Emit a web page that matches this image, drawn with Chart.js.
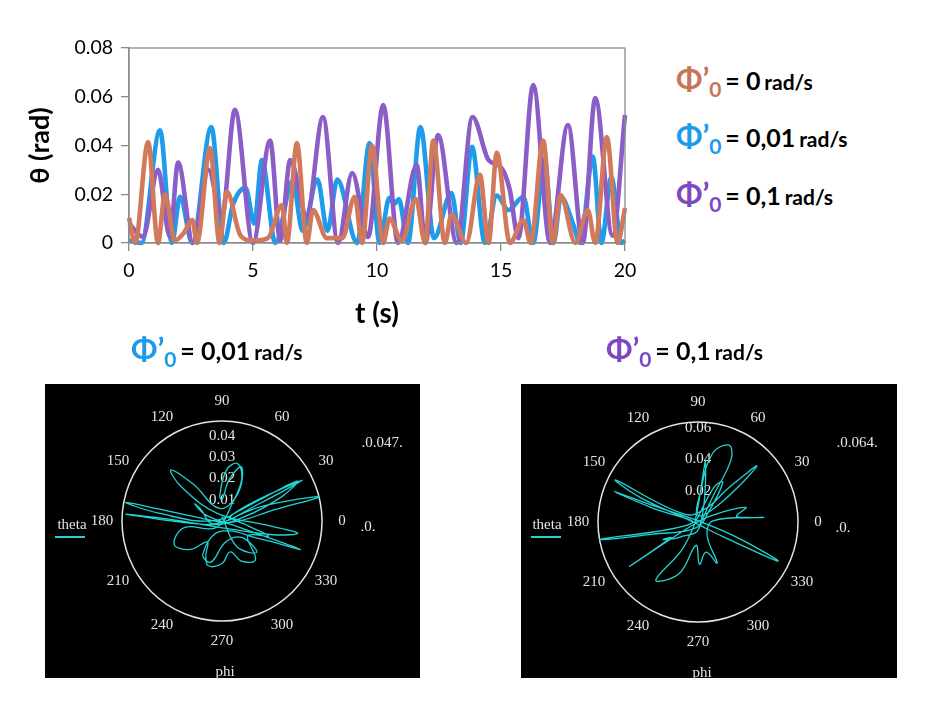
<!DOCTYPE html>
<html>
<head>
<meta charset="utf-8">
<script src="https://cdn.jsdelivr.net/npm/chart.js@4.4.0/dist/chart.umd.min.js"></script>
<style>
  body { margin: 0; background: #fff; width: 947px; height: 713px; position: relative; overflow: hidden; font-family: Lato, "Open Sans", sans-serif; }
  #topWrap { position: absolute; left: 0; top: 0; width: 650px; height: 340px; }
  .leg { position: absolute; font-weight: bold; white-space: nowrap; color: #000; line-height: 1; }
  .leg .phi { font-size: 31px; }
  .leg .sub { font-size: 21px; position: relative; top: 7px; }
  .leg .eq { font-size: 25px; }
  .leg .unit { font-size: 21px; }
  .box { position: absolute; background: #000; }
  .box .wrap { position: absolute; left: 0; top: 0; width: 100%; height: 100%; }
  .ptxt { position: absolute; color: #e4e4e4; font-family: "Liberation Serif", serif; font-size: 15px; transform: translate(-50%, -50%); white-space: nowrap; }
  .tline { position: absolute; height: 1.5px; background: #22d3d3; }
</style>
</head>
<body>

<div id="topWrap"><canvas id="thetaChart"></canvas></div>

<div class="leg" style="left:676px; top:63px;"><span class="phi" style="color:#C8755A">Φ’<span class="sub">0</span></span> <span class="eq">= 0</span> <span class="unit">rad/s</span></div>
<div class="leg" style="left:676px; top:120px;"><span class="phi" style="color:#1C9BE6">Φ’<span class="sub">0</span></span> <span class="eq">= 0,01</span> <span class="unit">rad/s</span></div>
<div class="leg" style="left:676px; top:178px;"><span class="phi" style="color:#7E48C0">Φ’<span class="sub">0</span></span> <span class="eq">= 0,1</span> <span class="unit">rad/s</span></div>

<div class="leg" style="left:131px; top:333px;"><span class="phi" style="color:#1C9BE6">Φ’<span class="sub">0</span></span> <span class="eq">= 0,01</span> <span class="unit">rad/s</span></div>
<div class="leg" style="left:606px; top:333px;"><span class="phi" style="color:#7E48C0">Φ’<span class="sub">0</span></span> <span class="eq">= 0,1</span> <span class="unit">rad/s</span></div>

<div class="box" style="left:45px; top:384px; width:375px; height:294px;">
  <div class="wrap"><canvas id="polarA"></canvas></div>
  <div class="ptxt" style="left:27px; top:140px;">theta</div>
  <div class="tline" style="left:10px; top:152px; width:30px;"></div>
  <div class="ptxt" style="left:180px; top:287px;">phi</div>
  <div class="ptxt" style="left:337px; top:58px;">.0.047.</div>
  <div class="ptxt" style="left:323px; top:142px;">.0.</div>
</div>

<div class="box" style="left:521px; top:384px; width:376px; height:294px;">
  <div class="wrap"><canvas id="polarB"></canvas></div>
  <div class="ptxt" style="left:26px; top:140px;">theta</div>
  <div class="tline" style="left:10px; top:152px; width:30px;"></div>
  <div class="ptxt" style="left:181px; top:288px;">phi</div>
  <div class="ptxt" style="left:336px; top:58px;">.0.064.</div>
  <div class="ptxt" style="left:322px; top:143px;">.0.</div>
</div>

<script>
// theta(t) for the three initial phi rates
const tOrange = [0, 0.25, 0.77, 1.17, 1.45, 1.85, 2.2, 2.55, 2.74, 3.27, 3.65, 3.95, 4.5, 5.0, 5.6, 6.17, 6.37, 6.77, 7.17, 7.42, 7.98, 8.6, 9.1, 9.4, 9.8, 10.25, 10.5, 11.0, 11.57, 11.94, 12.27, 12.74, 13.0, 13.6, 14.15, 14.5, 14.83, 15.36, 15.9, 16.2, 16.7, 17.1, 17.4, 18.0, 18.5, 18.8, 19.27, 19.7, 20];
const thetaOrange = [0.0103, 0, 0.0414, 0, 0.020, 0.001, 0.004, 0.0094, 0, 0.039, 0, 0.021, 0.003, 0.001, 0.002, 0.0156, 0, 0.041, 0, 0.0135, 0.002, 0.002, 0.019, 0, 0.040, 0, 0.010, 0.001, 0.018, 0, 0.042, 0, 0.0115, 0, 0.028, 0, 0.037, 0, 0.0094, 0, 0.042, 0, 0.0197, 0, 0.0135, 0, 0.0435, 0, 0.0143];

const tBlue = [0, 0.5, 1.25, 1.73, 2.06, 2.55, 3.32, 3.82, 4.2, 4.7, 5.05, 5.36, 5.9, 6.6, 7.0, 7.6, 8.0, 8.4, 9.2, 9.7, 10.1, 10.5, 10.7, 10.88, 11.25, 11.75, 12.3, 13.0, 13.37, 13.83, 14.35, 14.83, 15.3, 15.9, 16.3, 16.75, 17.12, 17.42, 17.9, 18.2, 18.7, 19.05, 19.45, 19.85, 20];
const thetaBlue = [0.001, 0, 0.0462, 0, 0.019, 0, 0.0476, 0, 0.016, 0.0226, 0.008, 0.034, 0, 0.0255, 0.005, 0.026, 0.005, 0.026, 0, 0.041, 0, 0.0185, 0.016, 0.018, 0, 0.0476, 0.002, 0.0205, 0, 0.0395, 0, 0.0195, 0.0135, 0.019, 0, 0.034, 0, 0.019, 0.008, 0, 0.0355, 0, 0.027, 0, 0.001];

const tPurple = [0, 0.56, 1.17, 1.65, 1.98, 2.58, 3.2, 3.75, 4.27, 5.0, 5.69, 6.1, 6.5, 7.17, 7.82, 8.43, 9.0, 9.64, 10.25, 10.85, 11.6, 11.95, 12.46, 13.22, 13.85, 14.5, 15.0, 15.35, 15.7, 16.3, 16.98, 17.7, 18.3, 18.8, 19.5, 20];
const thetaPurple = [0.008, 0.0025, 0.030, 0.0025, 0.033, 0, 0.030, 0.011, 0.0546, 0, 0.042, 0.001, 0.034, 0.011, 0.0517, 0, 0.0287, 0.0025, 0.0566, 0, 0.032, 0, 0.0443, 0, 0.0517, 0.034, 0.031, 0.022, 0.002, 0.0648, 0, 0.0484, 0, 0.0595, 0.003, 0.0525];

const yTicks = [0, 0.02, 0.04, 0.06, 0.08];
const xTicks = [0, 5, 10, 15, 20];

// polar trajectories (phi in degrees, theta in rad)
const phiA = [10, 20, 14, 12, 350, 172, 169, 173, 178, 30, 28, 22, 10, 200, 176, 178, 300, 345, 351, 355, 120, 140, 135, 128, 100, 60, 70, 80, 90, 95, 85, 75, 65, 60, 230, 190, 206, 222, 235, 245, 253, 270, 285, 296, 311, 330, 342, 350, 30, 27, 25, 200, 150, 148, 160, 340, 340, 335, 260, 240, 255, 280, 320, 318, 300, 90];
const thetaA = [0.003, 0.020, 0.047, 0.025, 0.004, 0.010, 0.046, 0.030, 0.004, 0.015, 0.040, 0.030, 0.010, 0.005, 0.045, 0.025, 0.004, 0.025, 0.036, 0.020, 0.004, 0.025, 0.034, 0.022, 0.006, 0.015, 0.027, 0.020, 0.010, 0.012, 0.024, 0.028, 0.022, 0.010, 0.004, 0.018, 0.025, 0.020, 0.012, 0.018, 0.022, 0.020, 0.015, 0.021, 0.024, 0.014, 0.023, 0.012, 0.005, 0.042, 0.020, 0.004, 0.012, 0.015, 0.008, 0.008, 0.039, 0.020, 0.005, 0.018, 0.020, 0.010, 0.012, 0.022, 0.014, 0.002];

const phiB = [0, 60, 62, 68, 78, 85, 90, 40, 43.5, 48, 60, 150, 153, 157, 170, 330, 334, 338, 350, 160, 160, 163, 190, 190, 195, 250, 45, 58, 65, 80, 240, 234, 250, 265, 272, 285, 295, 305, 5, 4, 8, 17, 25, 210, 213, 210, 207, 220, 280, 83, 90, 180];
const thetaB = [0.002, 0.020, 0.045, 0.053, 0.045, 0.020, 0.004, 0.020, 0.052, 0.030, 0.010, 0.010, 0.059, 0.040, 0.005, 0.020, 0.057, 0.030, 0.004, 0.030, 0.057, 0.030, 0.004, 0.064, 0.030, 0.004, 0.010, 0.030, 0.025, 0.005, 0.020, 0.046, 0.035, 0.015, 0.027, 0.020, 0.029, 0.010, 0.010, 0.042, 0.025, 0.032, 0.010, 0.006, 0.052, 0.020, 0.025, 0.015, 0.004, 0.039, 0.010, 0.002];

const angleLabels = [0, 30, 60, 90, 120, 150, 180, 210, 240, 270, 300, 330];

function toPoints(xs, ys) {
    return xs.map((x, i) => ({ x: x, y: ys[i] }));
}

function toPolar(phis, thetas) {
    return phis.map((p, i) => {
        const a = p * Math.PI / 180;
        return { x: thetas[i] * Math.cos(a), y: thetas[i] * Math.sin(a) };
    });
}

// box round the plot area (top and right edges)
const frame = {
    id: 'frame',
    afterDraw(chart) {
        const { ctx, chartArea: a } = chart;
        ctx.save();
        ctx.strokeStyle = '#8a8a8a';
        ctx.lineWidth = 1.3;
        ctx.strokeRect(a.left, a.top, a.right - a.left, a.bottom - a.top);
        ctx.restore();
    }
};

const lineStyle = { pointRadius: 0, borderWidth: 4.6, cubicInterpolationMode: 'monotone', clip: false, fill: false };

new Chart(document.getElementById('thetaChart'), {
    type: 'line',
    data: {
        datasets: [
            { label: "φ'0 = 0 rad/s", data: toPoints(tOrange, thetaOrange), borderColor: '#D2795C', ...lineStyle },
            { label: "φ'0 = 0,1 rad/s", data: toPoints(tPurple, thetaPurple), borderColor: '#8A5EC6', ...lineStyle },
            { label: "φ'0 = 0,01 rad/s", data: toPoints(tBlue, thetaBlue), borderColor: '#1E9BEA', ...lineStyle }
        ]
    },
    options: {
        responsive: true,
        maintainAspectRatio: false,
        animation: false,
        layout: { padding: { top: 48, right: 25, left: 0, bottom: 0 } },
        plugins: { legend: { display: false }, tooltip: { enabled: false } },
        scales: {
            x: {
                type: 'linear', min: 0, max: 20,
                afterBuildTicks: s => { s.ticks = xTicks.map(v => ({ value: v })); },
                afterFit: s => { s.height = 97; },
                grid: { drawOnChartArea: false, drawTicks: true, tickLength: 8, color: '#8a8a8a', lineWidth: 1.3 },
                border: { display: true, color: '#8a8a8a', width: 1.3 },
                ticks: { color: '#000', font: { family: 'Lato', size: 19.5 }, padding: 8 },
                title: { display: true, text: 't (s)', color: '#000', font: { family: 'Lato', size: 28, weight: 'bold' }, padding: { top: 0, bottom: 9 } }
            },
            y: {
                min: 0, max: 0.08,
                afterBuildTicks: s => { s.ticks = yTicks.map(v => ({ value: v })); },
                afterFit: s => { s.width = 129; },
                grid: { drawOnChartArea: false, drawTicks: true, tickLength: 8, color: '#8a8a8a', lineWidth: 1.3 },
                border: { display: true, color: '#8a8a8a', width: 1.3 },
                ticks: { color: '#000', font: { family: 'Lato', size: 19.5 }, padding: 8, callback: v => v === 0 ? '0' : v.toFixed(2) },
                title: { display: true, text: 'θ (rad)', color: '#000', font: { family: 'Lato', size: 27, weight: 'bold' }, padding: { top: 24, bottom: 0 } }
            }
        }
    },
    plugins: [frame]
});

// polar grid: outer circle, angle labels and radial tick labels
const polarFrame = {
    id: 'polarFrame',
    beforeDatasetsDraw(chart, args, opts) {
        const { ctx, scales: { x, y } } = chart;
        const cx = x.getPixelForValue(0), cy = y.getPixelForValue(0);
        const r = x.getPixelForValue(opts.max) - cx;
        ctx.save();
        ctx.strokeStyle = '#e4e4e4';
        ctx.lineWidth = 1.5;
        ctx.beginPath();
        ctx.arc(cx, cy, r, 0, Math.PI * 2);
        ctx.stroke();
        ctx.fillStyle = '#e4e4e4';
        ctx.font = '15px "Liberation Serif"';
        ctx.textAlign = 'center';
        ctx.textBaseline = 'middle';
        angleLabels.forEach(a => {
            const rad = a * Math.PI / 180;
            ctx.fillText(String(a), cx + 1.2 * r * Math.cos(rad), cy - 1.2 * r * Math.sin(rad));
        });
        opts.ticks.forEach(v => ctx.fillText(v.toFixed(2), cx, y.getPixelForValue(v)));
        ctx.restore();
    }
};

function polarChart(id, phis, thetas, maxTheta, radialTicks, pad) {
    new Chart(document.getElementById(id), {
        type: 'scatter',
        data: {
            datasets: [{
                label: 'theta',
                data: toPolar(phis, thetas),
                showLine: true,
                tension: 0.4,
                pointRadius: 0,
                borderColor: '#22d3d3',
                borderWidth: 1.3
            }]
        },
        options: {
            responsive: true,
            maintainAspectRatio: false,
            animation: false,
            layout: { padding: pad },
            plugins: {
                legend: { display: false },
                tooltip: { enabled: false },
                polarFrame: { max: maxTheta, ticks: radialTicks }
            },
            scales: {
                x: { display: false, min: -maxTheta, max: maxTheta },
                y: { display: false, min: -maxTheta, max: maxTheta }
            }
        },
        plugins: [polarFrame]
    });
}

polarChart('polarA', phiA, thetaA, 0.047, [0.01, 0.02, 0.03, 0.04], { left: 77, right: 98, top: 37, bottom: 57 });
polarChart('polarB', phiB, thetaB, 0.064, [0.02, 0.04, 0.06], { left: 77, right: 99, top: 38, bottom: 56 });
</script>
</body>
</html>
